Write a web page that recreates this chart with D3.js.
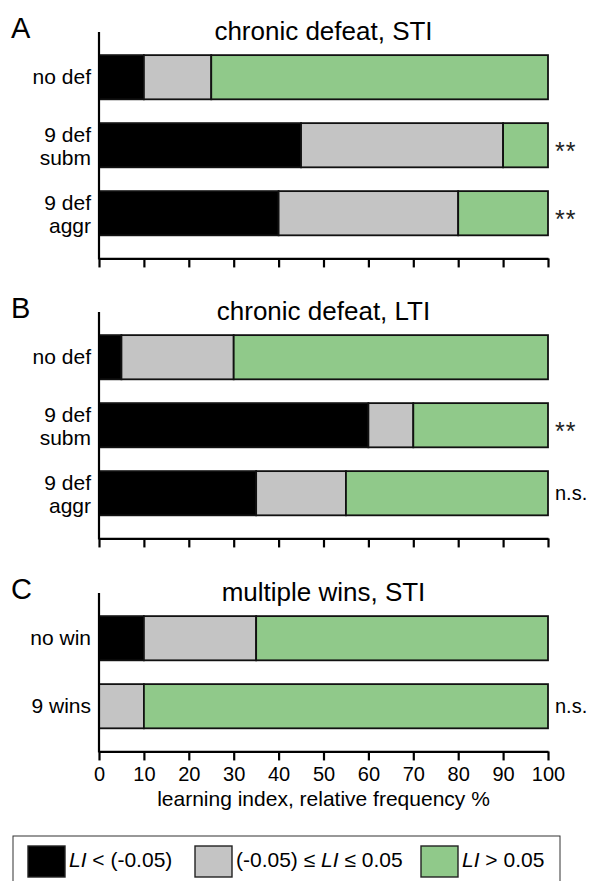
<!DOCTYPE html>
<html>
<head>
<meta charset="utf-8">
<script src="https://cdn.jsdelivr.net/npm/d3@7"></script>
<style>
  body { margin: 0; background: #fff; }
  svg { font-family: Arial, "Liberation Sans", sans-serif; }
</style>
</head>
<body>
<svg id="chart" width="591" height="881"></svg>
<script>
// panel A: chronic defeat, STI
var catsA = ["no def", "9 def\nsubm", "9 def\naggr"];
var lowA = [10, 45, 40];
var midA = [15, 45, 40];
var highA = [75, 10, 20];
var sigA = ["", "**", "**"];

// panel B: chronic defeat, LTI
var catsB = ["no def", "9 def\nsubm", "9 def\naggr"];
var lowB = [5, 60, 35];
var midB = [25, 10, 20];
var highB = [70, 30, 45];
var sigB = ["", "**", "n.s."];

// panel C: multiple wins, STI
var catsC = ["no win", "9 wins"];
var lowC = [10, 0];
var midC = [25, 10];
var highC = [65, 90];
var sigC = ["", "n.s."];

var xTicks = [0, 10, 20, 30, 40, 50, 60, 70, 80, 90, 100];
var colors = ["#000000", "#c4c4c4", "#90c98a"];
var legendLabels = [["LI", " < (-0.05)"], ["(-0.05) \u2264 ", "LI", " \u2264 0.05"], ["LI", " > 0.05"]];

var svg = d3.select("#chart");
var x = d3.scaleLinear().domain([0, 100]).range([99, 548]);
var STEP = 68;

var drawPanel = function(top, letter, title, cats, low, mid, high, sig, showLabels) {
	var n = cats.length;
	var pI = 0.35, pO = 0.34;
	var h = STEP * (n - pI + 2 * pO);
	var y = d3.scaleBand().domain(cats).range([top, top + h]).paddingInner(pI).paddingOuter(pO);
	var g = svg.append("g");

	g.append("text").attr("x", 11).attr("y", top + 6).attr("font-size", 29).text(letter);
	g.append("text").attr("x", (x(0) + x(100)) / 2).attr("y", top + 8)
		.attr("text-anchor", "middle").attr("font-size", 26).text(title);

	var rows = cats.map(function(c, i) {
		return {cat: c, segs: [[0, low[i]], [low[i], low[i] + mid[i]], [low[i] + mid[i], low[i] + mid[i] + high[i]]]};
	});
	rows.forEach(function(r, i) {
		r.segs.forEach(function(s, k) {
			if (s[1] - s[0] <= 0) return;
			g.append("rect").attr("x", x(s[0])).attr("y", y(r.cat))
				.attr("width", x(s[1]) - x(s[0])).attr("height", y.bandwidth())
				.attr("fill", colors[k]).attr("stroke", "#111").attr("stroke-width", 1.8);
		});
		var lines = r.cat.split("\n");
		var cy = y(r.cat) + y.bandwidth() / 2;
		var t = g.append("text").attr("text-anchor", "end").attr("font-size", 21);
		lines.forEach(function(l, j) {
			var base = lines.length == 1 ? cy + 7 : cy - 3 + j * 23;
			t.append("tspan").attr("x", 91).attr("y", base).text(l);
		});
		if (sig[i] == "**") {
			g.append("text").attr("x", 555).attr("y", cy + 15).attr("font-size", 25)
				.attr("fill", "#222").attr("letter-spacing", 1).text(sig[i]);
		} else if (sig[i]) {
			g.append("text").attr("x", 555).attr("y", cy + 7).attr("font-size", 20).text(sig[i]);
		}
	});

	var axis = d3.axisBottom(x).tickValues(xTicks).tickSize(9).tickSizeOuter(0).tickPadding(6);
	if (!showLabels) axis.tickFormat("");
	var ax = g.append("g").attr("transform", "translate(0," + (top + h) + ")").call(axis);
	ax.select(".domain").attr("stroke-width", 2.2).attr("stroke", "#000");
	ax.selectAll(".tick line").attr("stroke-width", 2.2).attr("stroke", "#000");
	ax.selectAll(".tick text").attr("font-size", 20).attr("font-family", "Arial, 'Liberation Sans', sans-serif").attr("fill", "#000");

	g.append("line").attr("x1", x(0)).attr("x2", x(0)).attr("y1", top).attr("y2", top + h + 1)
		.attr("stroke", "#000").attr("stroke-width", 2.2);
	return top + h;
};

drawPanel(32, "A", "chronic defeat, STI", catsA, lowA, midA, highA, sigA, false);
drawPanel(312, "B", "chronic defeat, LTI", catsB, lowB, midB, highB, sigB, false);
var bottom = drawPanel(593, "C", "multiple wins, STI", catsC, lowC, midC, highC, sigC, true);

svg.append("text").attr("x", (x(0) + x(100)) / 2).attr("y", bottom + 55)
	.attr("text-anchor", "middle").attr("font-size", 21).text("learning index, relative frequency %");

// legend
svg.append("rect").attr("x", 13).attr("y", 836).attr("width", 547).attr("height", 60)
	.attr("fill", "none").attr("stroke", "#333").attr("stroke-width", 1);
var legX = [28, 195, 421];
legendLabels.forEach(function(parts, i) {
	svg.append("rect").attr("x", legX[i]).attr("y", 846).attr("width", 37).attr("height", 31)
		.attr("fill", colors[i]).attr("stroke", "#222").attr("stroke-width", 1.4);
	var t = svg.append("text").attr("x", legX[i] + 41).attr("y", 867).attr("font-size", 21);
	parts.forEach(function(p) {
		t.append("tspan").attr("font-style", p == "LI" ? "italic" : "normal").text(p);
	});
});
</script>
</body>
</html>
